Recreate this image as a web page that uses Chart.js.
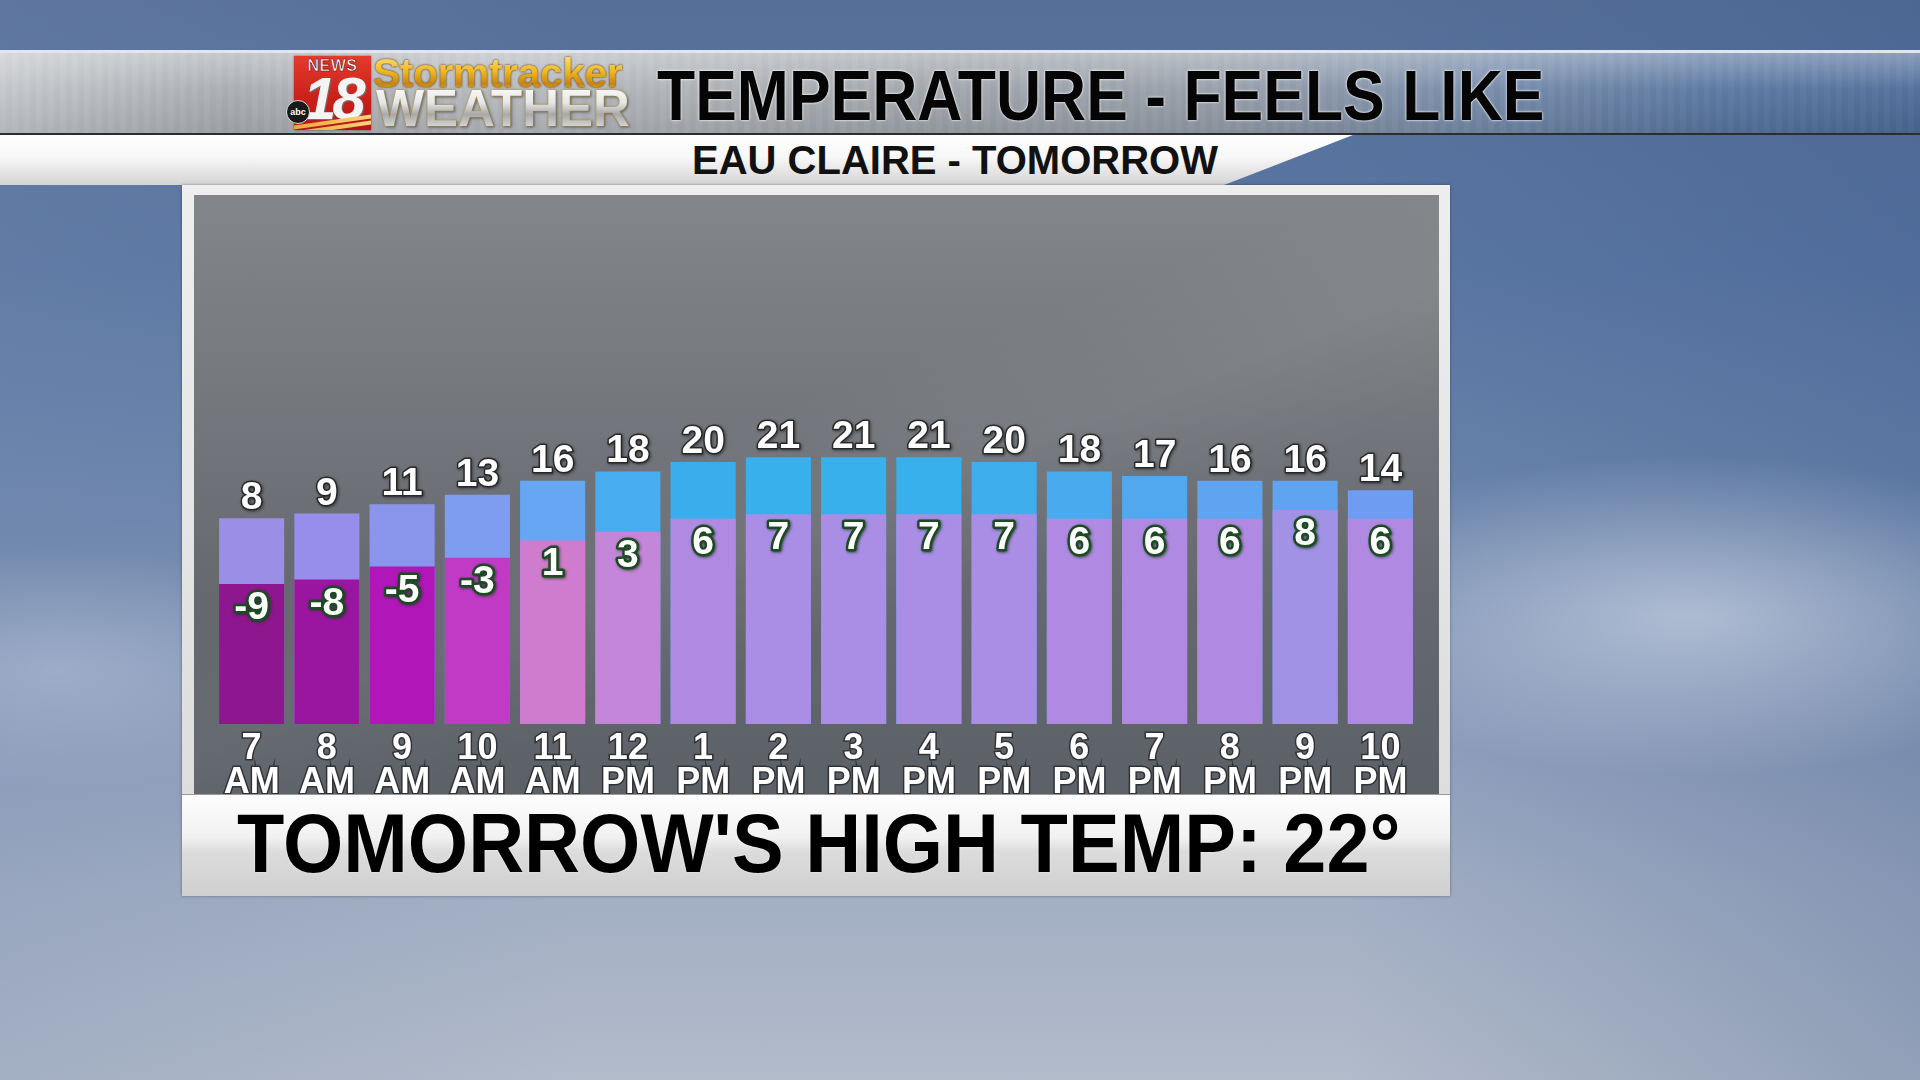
<!DOCTYPE html>
<html>
<head>
<meta charset="utf-8">
<title>Temperature - Feels Like</title>
<script src="https://cdn.jsdelivr.net/npm/chart.js@4.4.1/dist/chart.umd.min.js"></script>
<style>
  html, body { margin: 0; padding: 0; }
  body {
    width: 1920px; height: 1080px; overflow: hidden; position: relative;
    font-family: "Liberation Sans", Arial, sans-serif;
    background:
      radial-gradient(ellipse 420px 160px at 88% 57%, rgba(225,232,242,0.55), rgba(225,232,242,0) 100%),
      radial-gradient(ellipse 300px 120px at 3% 62%, rgba(190,202,222,0.45), rgba(190,202,222,0) 100%),
      linear-gradient(to right, rgba(120,140,175,0.25) 0%, rgba(120,140,175,0) 30%, rgba(50,80,130,0) 70%, rgba(50,80,130,0.25) 100%),
      linear-gradient(to bottom, #566f99 0%, #5a76a3 25%, #6d86ad 48%, #8c9dbb 66%, #a2aec4 82%, #b2bbca 100%);
  }
  .abs { position: absolute; }
  #header {
    left: 0; top: 50px; width: 1920px; height: 80px;
    border-top: 3px solid #e2e6ec; border-bottom: 2px solid #2b2d30;
    background:
      linear-gradient(to bottom, rgba(255,255,255,0.35) 0%, rgba(255,255,255,0.05) 45%, rgba(0,0,0,0.08) 100%),
      repeating-linear-gradient(to right, rgba(255,255,255,0.025) 0 6px, rgba(0,0,0,0.015) 6px 12px),
      linear-gradient(to right, #c3c6ca 0%, #a8acb1 12%, #b6b9bd 26%, #a0a5ab 48%, #939ca8 64%, #7288a8 78%, #58759f 89%, #4c6b99 100%);
  }
  #subband {
    left: 0; top: 135px; width: 1360px; height: 50px;
    background: linear-gradient(to bottom, #ffffff 0%, #f7f7f7 45%, #d4d4d4 100%);
    clip-path: polygon(0 0, 1353px 0, 1224px 100%, 0 100%);
  }
  #logoBox {
    left: 294px; top: 56px; width: 77px; height: 74px;
    background: linear-gradient(to bottom, #e33b2c 0%, #c81f1a 60%, #b3161a 100%);
    box-shadow: 0 0 2px rgba(0,0,0,0.5);
    overflow: hidden;
  }
  #logoBox .news { position: absolute; left: 0; width: 77px; top: 1px; text-align: center;
    font: bold 16px "Liberation Sans", Arial, sans-serif; color: #fff; letter-spacing: 0.5px;
    -webkit-text-stroke: 0.6px #6a0a0a; }
  #logoBox .num { position: absolute; left: 9px; top: 8px;
    font: italic bold 60px "Liberation Sans", Arial, sans-serif; color: #f4f4f4; letter-spacing: -4px;
    text-shadow: 1px 1px 1px #777; }
  #logoBox .stripe { position: absolute; left: 0; width: 77px; height: 4px;
    background: linear-gradient(to right, #f2a53a, #f7d37a); transform: skewY(-8deg); }
  #abc { left: 286px; top: 100px; width: 22px; height: 22px; border-radius: 50%;
    background: #1a1a1a; color: #fff; font: bold 9px "Liberation Sans", Arial, sans-serif;
    text-align: center; line-height: 22px; border: 1px solid #ddd; }
  #storm { left: 373px; top: 53px; font: bold 41px "Liberation Sans", Arial, sans-serif;
    line-height: 1; white-space: nowrap; letter-spacing: -0.5px;
    background: linear-gradient(to bottom, #ffe680 0%, #f0b820 45%, #c98410 75%, #eab030 100%);
    -webkit-background-clip: text; background-clip: text; color: transparent;
    filter: drop-shadow(0 0 1px #4a2e00); }
  #weather { left: 376px; top: 82px; font: bold 52px "Liberation Sans", Arial, sans-serif;
    line-height: 1; white-space: nowrap; transform: scaleX(0.98); transform-origin: left top;
    background: linear-gradient(to bottom, #ffffff 0%, #e6e6e6 40%, #a9a9a9 62%, #eeeeee 100%);
    -webkit-background-clip: text; background-clip: text; color: transparent;
    filter: drop-shadow(0 0 1px #c9a23a) drop-shadow(1px 1px 1px #555); }
  #title { left: 657px; top: 60px; font: bold 71px "Liberation Sans", Arial, sans-serif;
    line-height: 1; white-space: nowrap; color: #050505;
    transform: scaleX(0.88); transform-origin: left top;
    text-shadow: 0 0 2px #fff, 0 0 3px rgba(255,255,255,0.8); }
  #subtitle { left: 692px; top: 140px; font: bold 40px "Liberation Sans", Arial, sans-serif;
    line-height: 1; white-space: nowrap; color: #111; }
  #frame { left: 182px; top: 185px; width: 1268px; height: 711px;
    background: linear-gradient(to bottom, #eeeeee, #dadada);
    box-shadow: 0 0 3px rgba(0,0,0,0.35); }
  #plot { left: 194px; top: 195px; width: 1245px; height: 599px;
    background:
      linear-gradient(160deg, rgba(255,255,255,0) 40%, rgba(255,255,255,0.05) 52%, rgba(255,255,255,0) 64%),
      linear-gradient(to bottom, #828589 0%, #74787d 35%, #64686e 70%, #5c6168 100%); }
  #footer { left: 182px; top: 794px; width: 1268px; height: 102px;
    background: linear-gradient(to bottom, #fdfdfd 0%, #f1f1f1 42%, #dcdcdc 56%, #cfcfcf 100%);
    border-top: 1px solid #9a9a9a; box-sizing: border-box; }
  #footText { left: 237px; top: 802px; font: bold 83px "Liberation Sans", Arial, sans-serif;
    line-height: 1; white-space: nowrap; color: #000;
    transform: scaleX(0.934); transform-origin: left top;
    text-shadow: 0 0 2px rgba(255,255,255,0.9); }
  #chart { left: 194px; top: 195px; }
</style>
</head>
<body>
<div id="header" class="abs"></div>
<div id="subband" class="abs"></div>
<div id="logoBox" class="abs">
  <div class="news">NEWS</div>
  <div class="num">18</div>
  <div class="stripe" style="top:64px"></div>
  <div class="stripe" style="top:70px"></div>
</div>
<div id="abc" class="abs">abc</div>
<div id="storm" class="abs">Stormtracker</div>
<div id="weather" class="abs">WEATHER</div>
<div id="title" class="abs">TEMPERATURE - FEELS LIKE</div>
<div id="subtitle" class="abs">EAU CLAIRE - TOMORROW</div>
<div id="frame" class="abs"></div>
<div id="plot" class="abs"></div>
<div id="footer" class="abs"></div>
<div id="footText" class="abs">TOMORROW'S HIGH TEMP: 22°</div>
<canvas id="chart" class="abs" width="1245" height="599"></canvas>

<script>
const hours = ['7', '8', '9', '10', '11', '12', '1', '2', '3', '4', '5', '6', '7', '8', '9', '10'];
const periods = ['AM', 'AM', 'AM', 'AM', 'AM', 'PM', 'PM', 'PM', 'PM', 'PM', 'PM', 'PM', 'PM', 'PM', 'PM', 'PM'];
const temps = [8, 9, 11, 13, 16, 18, 20, 21, 21, 21, 20, 18, 17, 16, 16, 14];
const feelsLike = [-9, -8, -5, -3, 1, 3, 6, 7, 7, 7, 7, 6, 6, 6, 8, 6];

const tempColors = ['#9a8ee6', '#968eea', '#8a96ec', '#7e9cf0', '#66a6f2', '#48acf0', '#3aaeec', '#38b0ec',
  '#38b0ec', '#38b0ec', '#3eaeec', '#4aaaee', '#52a8ee', '#5ea4f0', '#5ea4f0', '#6e9cf2'];
const feelsColors = ['#8e168e', '#9a16a0', '#b016b8', '#c03ac6', '#d07cce', '#c486d8', '#b08ae2', '#aa8ee6',
  '#aa8ee6', '#aa8ee6', '#aa8ee6', '#b08ae2', '#b08ae2', '#b08ae2', '#a292e6', '#b08ae2'];

// the graphic uses a slightly different vertical scale for each series
const TEMP_MIN = -35.86, TEMP_MAX = 76.93;
const FEELS_MIN = -41.17, FEELS_MAX = 80.36;
const LABEL_FONT = 'bold 39px "Liberation Sans", Arial, sans-serif';

const valueLabels = {
  id: 'valueLabels',
  afterDatasetsDraw(chart) {
    const ctx = chart.ctx;
    const tempMeta = chart.getDatasetMeta(0);
    const feelsMeta = chart.getDatasetMeta(1);
    ctx.save();
    ctx.font = LABEL_FONT;
    ctx.textAlign = 'center';
    ctx.textBaseline = 'alphabetic';
    ctx.lineJoin = 'round';

    tempMeta.data.forEach((bar, i) => {
      const txt = String(temps[i]);
      const y = bar.y - 9;
      ctx.shadowColor = 'rgba(0,0,0,0.55)';
      ctx.shadowBlur = 3;
      ctx.shadowOffsetX = 1;
      ctx.shadowOffsetY = 1;
      ctx.lineWidth = 3;
      ctx.strokeStyle = 'rgba(35,35,38,0.9)';
      ctx.strokeText(txt, bar.x, y);
      ctx.shadowColor = 'transparent';
      ctx.fillStyle = '#ffffff';
      ctx.fillText(txt, bar.x, y);
    });

    feelsMeta.data.forEach((bar, i) => {
      const txt = String(feelsLike[i]);
      const y = bar.y + 7 + 28;
      ctx.shadowColor = 'rgba(20,60,25,0.8)';
      ctx.shadowBlur = 3;
      ctx.lineWidth = 5;
      ctx.strokeStyle = '#1c4a22';
      ctx.strokeText(txt, bar.x, y);
      ctx.shadowColor = 'transparent';
      ctx.fillStyle = '#ffffff';
      ctx.fillText(txt, bar.x, y);
    });
    ctx.restore();
  }
};

new Chart(document.getElementById('chart'), {
  type: 'bar',
  data: {
    labels: hours.map((h, i) => [h, periods[i]]),
    datasets: [
      {
        label: 'Temperature',
        data: temps,
        yAxisID: 'y',
        base: TEMP_MIN,
        backgroundColor: tempColors,
        grouped: false,
        order: 1,
        categoryPercentage: 1,
        barPercentage: 0.865,
        borderWidth: 0,
      },
      {
        label: 'Feels like',
        data: feelsLike,
        yAxisID: 'y2',
        base: FEELS_MIN,
        backgroundColor: feelsColors,
        grouped: false,
        order: 0,
        categoryPercentage: 1,
        barPercentage: 0.865,
        borderWidth: 0,
      },
    ],
  },
  options: {
    responsive: false,
    animation: false,
    devicePixelRatio: 1,
    layout: { padding: { left: 20, right: 21, top: 0, bottom: 0 } },
    plugins: {
      legend: { display: false },
      tooltip: { enabled: false },
    },
    scales: {
      x: {
        grid: { display: false, drawTicks: false },
        border: { display: false },
        afterFit: (scale) => { scale.height = 70; },
        ticks: {
          autoSkip: false,
          maxRotation: 0,
          padding: 9,
          color: '#ffffff',
          textStrokeColor: 'rgba(40,42,46,0.85)',
          textStrokeWidth: 3,
          font: { family: '"Liberation Sans", Arial, sans-serif', size: 36, weight: 'bold', lineHeight: 0.92 },
        },
      },
      y: { display: false, min: TEMP_MIN, max: TEMP_MAX },
      y2: { display: false, min: FEELS_MIN, max: FEELS_MAX },
    },
  },
  plugins: [valueLabels],
});
</script>
</body>
</html>
